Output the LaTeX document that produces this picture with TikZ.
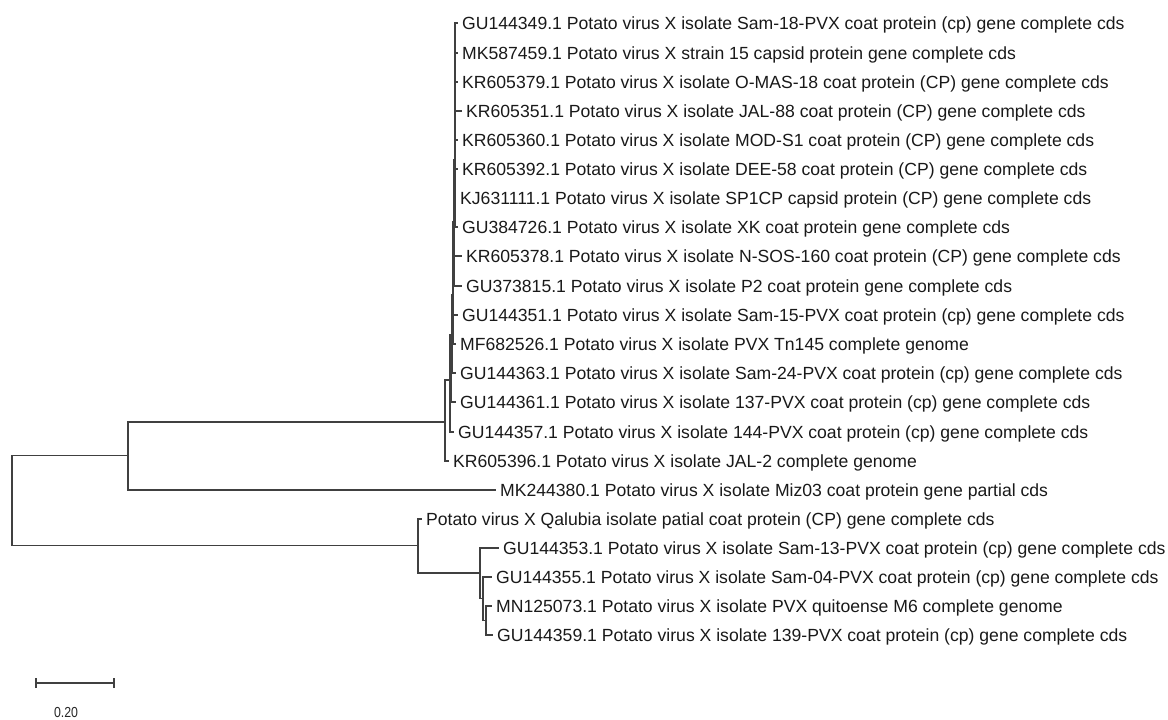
\documentclass[tikz,border=0pt]{standalone}
\usepackage{fontspec}
\setmainfont{Liberation Sans}
\begin{document}
\begin{tikzpicture}[x=1pt,y=-1pt,
  br/.style={draw=black!75,line width=1.1pt},
  leaf/.style={anchor=west,inner xsep=4pt,inner ysep=0pt,text height=12.6pt,text depth=0pt,font=\fontsize{17.6}{20}\selectfont,text=black!90},
  scalelbl/.style={font=\fontsize{14.5}{16}\selectfont,text=black!85,xscale=0.85}]
\useasboundingbox (0,0) rectangle (1168,720);
% internal nodes
\coordinate (R) at (12,500.5);
\coordinate (M) at (128,455.5);
\coordinate (A) at (418,545.5);
\coordinate (B) at (480,573);
\coordinate (C) at (483,598.5);
\coordinate (D) at (486,620.5);
\coordinate (T1) at (445,422);
\coordinate (T2) at (450,380);
\coordinate (T3) at (451.5,335);
\coordinate (T4) at (452.5,295);
\coordinate (T5) at (453,255);
\coordinate (T6) at (453.5,222);
\coordinate (T7) at (454,190);
\coordinate (T8) at (454.5,160);
\coordinate (T9) at (455,130);
\coordinate (T10) at (455,110);
\coordinate (T11) at (455,90);
\coordinate (T12) at (455,70);
\coordinate (T13) at (455,55);
\coordinate (T14) at (455,45);
\coordinate (T15) at (455,38);
% leaves
\node[leaf] (L1) at (458,23) {GU144349.1 Potato virus X isolate Sam-18-PVX coat protein (cp) gene complete cds};
\node[leaf] (L2) at (458,53) {MK587459.1 Potato virus X strain 15 capsid protein gene complete cds};
\node[leaf] (L3) at (458,82) {KR605379.1 Potato virus X isolate O-MAS-18 coat protein (CP) gene complete cds};
\node[leaf] (L4) at (462,111) {KR605351.1 Potato virus X isolate JAL-88 coat protein (CP) gene complete cds};
\node[leaf] (L5) at (458,140) {KR605360.1 Potato virus X isolate MOD-S1 coat protein (CP) gene complete cds};
\node[leaf] (L6) at (458,169) {KR605392.1 Potato virus X isolate DEE-58 coat protein (CP) gene complete cds};
\node[leaf] (L7) at (456,198) {KJ631111.1 Potato virus X isolate SP1CP capsid protein (CP) gene complete cds};
\node[leaf] (L8) at (458,227) {GU384726.1 Potato virus X isolate XK coat protein gene complete cds};
\node[leaf] (L9) at (462,256) {KR605378.1 Potato virus X isolate N-SOS-160 coat protein (CP) gene complete cds};
\node[leaf] (L10) at (462,286) {GU373815.1 Potato virus X isolate P2 coat protein gene complete cds};
\node[leaf] (L11) at (458,315) {GU144351.1 Potato virus X isolate Sam-15-PVX coat protein (cp) gene complete cds};
\node[leaf] (L12) at (456,344) {MF682526.1 Potato virus X isolate PVX Tn145 complete genome};
\node[leaf] (L13) at (456,373) {GU144363.1 Potato virus X isolate Sam-24-PVX coat protein (cp) gene complete cds};
\node[leaf] (L14) at (456,402) {GU144361.1 Potato virus X isolate 137-PVX coat protein (cp) gene complete cds};
\node[leaf] (L15) at (454,432) {GU144357.1 Potato virus X isolate 144-PVX coat protein (cp) gene complete cds};
\node[leaf] (L16) at (449,461) {KR605396.1 Potato virus X isolate JAL-2 complete genome};
\node[leaf] (L17) at (496,490) {MK244380.1 Potato virus X isolate Miz03 coat protein gene partial cds};
\node[leaf] (L18) at (422,519) {Potato virus X Qalubia isolate patial coat protein (CP) gene complete cds};
\node[leaf] (L19) at (499,548) {GU144353.1 Potato virus X isolate Sam-13-PVX coat protein (cp) gene complete cds};
\node[leaf] (L20) at (492,577) {GU144355.1 Potato virus X isolate Sam-04-PVX coat protein (cp) gene complete cds};
\node[leaf] (L21) at (492,606) {MN125073.1 Potato virus X isolate PVX quitoense M6 complete genome};
\node[leaf] (L22) at (493,635) {GU144359.1 Potato virus X isolate 139-PVX coat protein (cp) gene complete cds};
% branches
\draw[br] (R) |- (M);
\draw[br] (R) |- (A);
\draw[br] (M) |- (T1);
\draw[br] (M) |- (L17.west);
\draw[br] (A) |- (L18.west);
\draw[br] (A) |- (B);
\draw[br] (B) |- (L19.west);
\draw[br] (B) |- (C);
\draw[br] (C) |- (L20.west);
\draw[br] (C) |- (D);
\draw[br] (D) |- (L21.west);
\draw[br] (D) |- (L22.west);
\draw[br] (T1) |- (L16.west);
\draw[br] (T1) |- (T2);
\draw[br] (T2) |- (L15.west);
\draw[br] (T2) |- (T3);
\draw[br] (T3) |- (L14.west);
\draw[br] (T3) |- (T4);
\draw[br] (T4) |- (L13.west);
\draw[br] (T4) |- (T5);
\draw[br] (T5) |- (L12.west);
\draw[br] (T5) |- (T6);
\draw[br] (T6) |- (L11.west);
\draw[br] (T6) |- (T7);
\draw[br] (T7) |- (L10.west);
\draw[br] (T7) |- (T8);
\draw[br] (T8) |- (L9.west);
\draw[br] (T8) |- (T9);
\draw[br] (T9) |- (L8.west);
\draw[br] (T9) |- (T10);
\draw[br] (T10) |- (L7.west);
\draw[br] (T10) |- (T11);
\draw[br] (T11) |- (L6.west);
\draw[br] (T11) |- (T12);
\draw[br] (T12) |- (L5.west);
\draw[br] (T12) |- (T13);
\draw[br] (T13) |- (L4.west);
\draw[br] (T13) |- (T14);
\draw[br] (T14) |- (L3.west);
\draw[br] (T14) |- (T15);
\draw[br] (T15) |- (L1.west);
\draw[br] (T15) |- (L2.west);
% scale bar
\coordinate (S1) at (36,683);
\coordinate (S2) at (114,683);
\draw[br] (S1) -- (S2);
\draw[br] ([yshift=-5]S1) -- ([yshift=5]S1);
\draw[br] ([yshift=-5]S2) -- ([yshift=5]S2);
\node[scalelbl] (SL) at (66,713) {0.20};
\end{tikzpicture}
\end{document}
